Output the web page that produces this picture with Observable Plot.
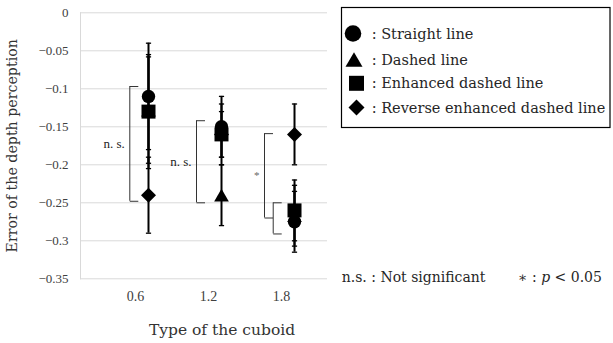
<!DOCTYPE html>
<html><head><meta charset="utf-8">
<script src="https://cdn.jsdelivr.net/npm/d3@7"></script>
<script src="https://cdn.jsdelivr.net/npm/@observablehq/plot@0.6"></script>
<style>
body{margin:0;background:#fff;}
#wrap{position:relative;width:613px;height:343px;overflow:hidden;}
#wrap svg{position:absolute;left:0;top:0;}
</style></head><body><div id="wrap"></div>
<script>
// ---- data ----
const categories = [0.6, 1.2, 1.8];
const tickLabels = ["0.6", "1.2", "1.8"];
const seriesNames = ["Straight line", "Dashed line", "Enhanced dashed line", "Reverse enhanced dashed line"];
const straightMean = [-0.11, -0.15, -0.275];
const straightErr  = [0.07, 0.04, 0.04];
const dashedMean   = [-0.128, -0.24, -0.267];
const dashedErr    = [0.07, 0.04, 0.04];
const enhancedMean = [-0.13, -0.16, -0.26];
const enhancedErr  = [0.075, 0.04, 0.04];
const reverseMean  = [-0.24, -0.16, -0.16];
const reverseErr   = [0.05, 0.03, 0.04];
const yTicks = [0, -0.05, -0.1, -0.15, -0.2, -0.25, -0.3, -0.35];
const yTickLabels = ["0", "\u22120.05", "\u22120.1", "\u22120.15", "\u22120.2", "\u22120.25", "\u22120.3", "\u22120.35"];
const bracketCategory = [0.6, 1.2, 1.8, 1.8];
const bracketTop    = [-0.097, -0.142, -0.159, -0.25];
const bracketBottom = [-0.248, -0.25, -0.27, -0.291];
const bracketLabel  = ["n. s.", "n. s.", "*", ""];
const xTitle = "Type of the cuboid";
const yTitle = "Error of the depth perception";
const noteNS = "n.s. : Not significant";

// ---- styles ----
const means = [straightMean, dashedMean, enhancedMean, reverseMean];
const errs = [straightErr, dashedErr, enhancedErr, reverseErr];
const seriesStyle = [
  {symbol: "circle", r: 6.7, dy: 0},
  {symbol: "triangle", r: 5.45, dy: 2.1},
  {symbol: "square", r: 7.9, dy: 0},
  {symbol: "diamond2", r: 6.76, dy: 0}
];
const drawOrder = [1, 3, 0, 2];
const markerDx = 13;
const bracketDx = [-5.7, -12, -17, -8.3];
const serif = "DejaVu Serif";
const tickFont = "Liberation Serif";

const capSymbol = {draw(ctx, size) { const w = Math.sqrt(size / Math.PI); ctx.moveTo(-w, 0); ctx.lineTo(w, 0); }};
const sideTick = {draw(ctx, size) { const w = Math.sqrt(size / Math.PI); ctx.moveTo(0, 0); ctx.lineTo(w, 0); }};

const rowsBySeries = seriesNames.map((name, s) =>
  categories.map((c, i) => ({series: name, cat: c, mean: means[s][i], err: errs[s][i]})));
const allRows = rowsBySeries.flat();
const brackets = bracketCategory.map((c, i) => ({cat: c, top: bracketTop[i], bottom: bracketBottom[i], label: bracketLabel[i]}));

const marks = [
  Plot.gridY(yTicks, {stroke: "#d9d9d9", strokeOpacity: 1}),
  Plot.frame({anchor: "left", stroke: "#d9d9d9"}),
  Plot.axisY(yTicks, {tickSize: 0, tickPadding: 12, tickFormat: d => yTickLabels[yTicks.indexOf(d)], fontFamily: tickFont, fontSize: 13, fill: "#404040", label: null}),
  Plot.axisX(categories, {tickSize: 0, tickPadding: 12, tickFormat: d => tickLabels[categories.indexOf(d)], fontFamily: tickFont, fontSize: 14, fill: "#404040", label: null}),
  Plot.ruleX(allRows, {x: "cat", y1: d => d.mean - d.err, y2: d => d.mean + d.err, dx: markerDx, stroke: "#000", strokeWidth: 2}),
  Plot.dot(allRows, {x: "cat", y: d => d.mean + d.err, symbol: capSymbol, r: 2.6, fill: "none", stroke: "#000", strokeWidth: 1.3, dx: markerDx}),
  Plot.dot(allRows, {x: "cat", y: d => d.mean - d.err, symbol: capSymbol, r: 2.6, fill: "none", stroke: "#000", strokeWidth: 1.3, dx: markerDx})
];
for (const s of drawOrder) {
  const st = seriesStyle[s];
  marks.push(Plot.dot(rowsBySeries[s], {x: "cat", y: "mean", symbol: st.symbol, r: st.r, fill: "#000", stroke: "none", dx: markerDx, dy: st.dy}));
}
brackets.forEach((b, i) => {
  const dx = bracketDx[i];
  marks.push(Plot.ruleX([b], {x: "cat", y1: "top", y2: "bottom", dx, stroke: "#333", strokeWidth: 1}));
  marks.push(Plot.dot([b, b], {x: "cat", y: (d, j) => j === 0 ? d.top : d.bottom, symbol: sideTick, r: 8.5, fill: "none", stroke: "#333", strokeWidth: 1, dx}));
  if (b.label) {
    const isStar = b.label === "*";
    marks.push(Plot.text([b], {x: "cat", y: d => (d.top + d.bottom) / 2, text: "label", dx: dx - 5, textAnchor: "end",
      fontFamily: tickFont, fontSize: isStar ? 11 : 13, fill: isStar ? "#666" : "#222"}));
  }
});
marks.push(Plot.text([xTitle], {frameAnchor: "bottom", dx: 18, dy: 56, fontFamily: serif, fontSize: 15.5, fill: "#333"}));
marks.push(Plot.text([yTitle], {frameAnchor: "left", dx: -68.3, rotate: -90, textAnchor: "middle", lineAnchor: "middle", fontFamily: serif, fontSize: 14.2, fill: "#333"}));

const chart = Plot.plot({
  width: 613, height: 343,
  marginLeft: 80, marginRight: 286, marginTop: 12.3, marginBottom: 64.7,
  x: {domain: [0.148, 2.178]},
  y: {domain: [-0.35, 0]},
  style: {background: "#fff", overflow: "visible"},
  marks
});
const wrap = document.getElementById("wrap");
wrap.appendChild(chart);

// ---- legend & notes ----
const ov = d3.select(wrap).append("svg").attr("width", 613).attr("height", 343).style("pointer-events", "none");
ov.append("rect").attr("x", 341.5).attr("y", 7.5).attr("width", 268.5).attr("height", 120).attr("fill", "none").attr("stroke", "#000").attr("stroke-width", 1.2);
const legendSymbols = [
  {type: d3.symbolCircle, size: 216, cx: 353, cy: 33.5, dy: 0},
  {type: d3.symbolTriangle, size: 125, cx: 354, cy: 59.5, dy: 2.45},
  {type: d3.symbolSquare, size: 225, cx: 356.5, cy: 83.3, dy: 0},
  {type: d3.symbolDiamond2, size: 163, cx: 356.5, cy: 107.5, dy: 0}
];
seriesNames.forEach((name, i) => {
  const ls = legendSymbols[i];
  ov.append("path").attr("d", d3.symbol(ls.type, ls.size)()).attr("transform", `translate(${ls.cx},${ls.cy + ls.dy})`).attr("fill", "#000");
  ov.append("text").attr("x", 371.7).attr("y", ls.cy).attr("dominant-baseline", "central")
    .attr("font-family", serif).attr("font-size", 14.5).attr("fill", "#262626").text(": " + name);
});
ov.append("text").attr("x", 341.7).attr("y", 276.7).attr("dominant-baseline", "central")
  .attr("font-family", serif).attr("font-size", 14).attr("fill", "#262626").text(noteNS);
const star = ov.append("text").attr("x", 518).attr("y", 276.7).attr("dominant-baseline", "central")
  .attr("font-family", serif).attr("font-size", 14).attr("fill", "#262626");
star.append("tspan").text("\u2217 : ");
star.append("tspan").attr("font-style", "italic").text("p");
star.append("tspan").text(" < 0.05");
</script></body></html>
